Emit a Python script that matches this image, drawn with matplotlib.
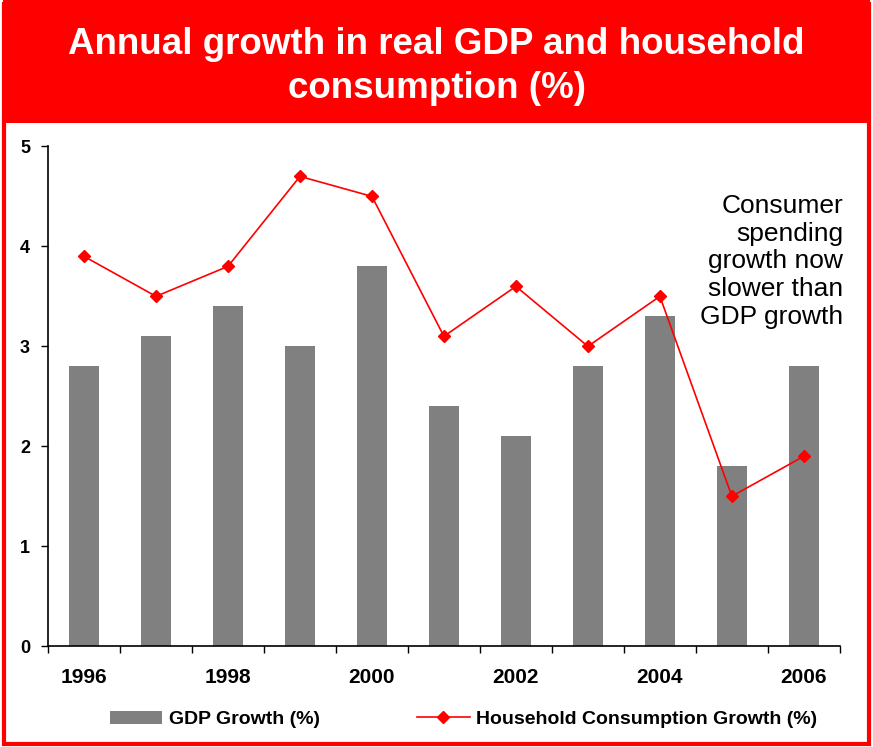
import matplotlib.pyplot as plt
from matplotlib.patches import Rectangle
from matplotlib.lines import Line2D
import numpy as np

plt.rcParams['font.family'] = ['Liberation Sans', 'DejaVu Sans']

years = [1996, 1997, 1998, 1999, 2000, 2001, 2002, 2003, 2004, 2005, 2006]
gdp_growth = [2.8, 3.1, 3.4, 3.0, 3.8, 2.4, 2.1, 2.8, 3.3, 1.8, 2.8]
consumption_growth = [3.9, 3.5, 3.8, 4.7, 4.5, 3.1, 3.6, 3.0, 3.5, 1.5, 1.9]
year_labels = ['1996', '', '1998', '', '2000', '', '2002', '', '2004', '', '2006']
y_ticks = [0, 1, 2, 3, 4, 5]

red = '#ff0000'
grey = '#808080'

fig = plt.figure(figsize=(8.73, 7.47), dpi=100)

# red header band and frame
fig.patches.append(Rectangle((0.003, 0.835), 0.994, 0.165, transform=fig.transFigure,
                             facecolor=red, edgecolor='none', zorder=0))
fig.patches.append(Rectangle((0.005, 0.004), 0.99, 0.99, transform=fig.transFigure,
                             facecolor='none', edgecolor=red, linewidth=3, zorder=0))
fig.text(0.5, 0.911, 'Annual growth in real GDP and household\nconsumption (%)',
         ha='center', va='center', color='white', fontsize=26.5, fontweight='bold',
         linespacing=1.3)

ax = fig.add_axes([0.055, 0.135, 0.907, 0.669])
x = np.arange(len(years))
ax.bar(x, gdp_growth, width=0.42, color=grey, zorder=2)
ax.plot(x, consumption_growth, color=red, linewidth=1.2, marker='D', markersize=6.5,
        zorder=3)

ax.set_xlim(-0.5, len(years) - 0.5)
ax.set_ylim(0, 5)
ax.set_yticks(y_ticks)
ax.set_yticklabels([str(v) for v in y_ticks], fontsize=13, fontweight='bold')
ax.set_xticks(x)
ax.set_xticklabels(year_labels, fontsize=15, fontweight='bold')
ax.tick_params(axis='x', length=0, pad=16)
ax.set_xticks(np.arange(len(years) + 1) - 0.5, minor=True)
ax.tick_params(axis='x', which='minor', length=5, width=1, direction='out')
ax.tick_params(axis='y', length=5, width=1, direction='out', pad=8)
for side in ('top', 'right'):
    ax.spines[side].set_visible(False)
for side in ('left', 'bottom'):
    ax.spines[side].set_linewidth(1.2)

ax.text(1.004, 0.905, 'Consumer\nspending\ngrowth now\nslower than\nGDP growth',
        transform=ax.transAxes, ha='right', va='top', fontsize=19, linespacing=1.2)

handles = [Rectangle((0, 0), 1, 1, facecolor=grey),
           Line2D([], [], color=red, marker='D', markersize=6.5, linewidth=1.2)]
fig.legend(handles, ['GDP Growth (%)', 'Household Consumption Growth (%)'],
           loc='center', bbox_to_anchor=(0.531, 0.037), ncol=2, frameon=False,
           prop={'weight': 'bold', 'size': 14}, handlelength=2.7,
           handletextpad=0.35, columnspacing=5.0)

fig.savefig('out.png', dpi=100)
